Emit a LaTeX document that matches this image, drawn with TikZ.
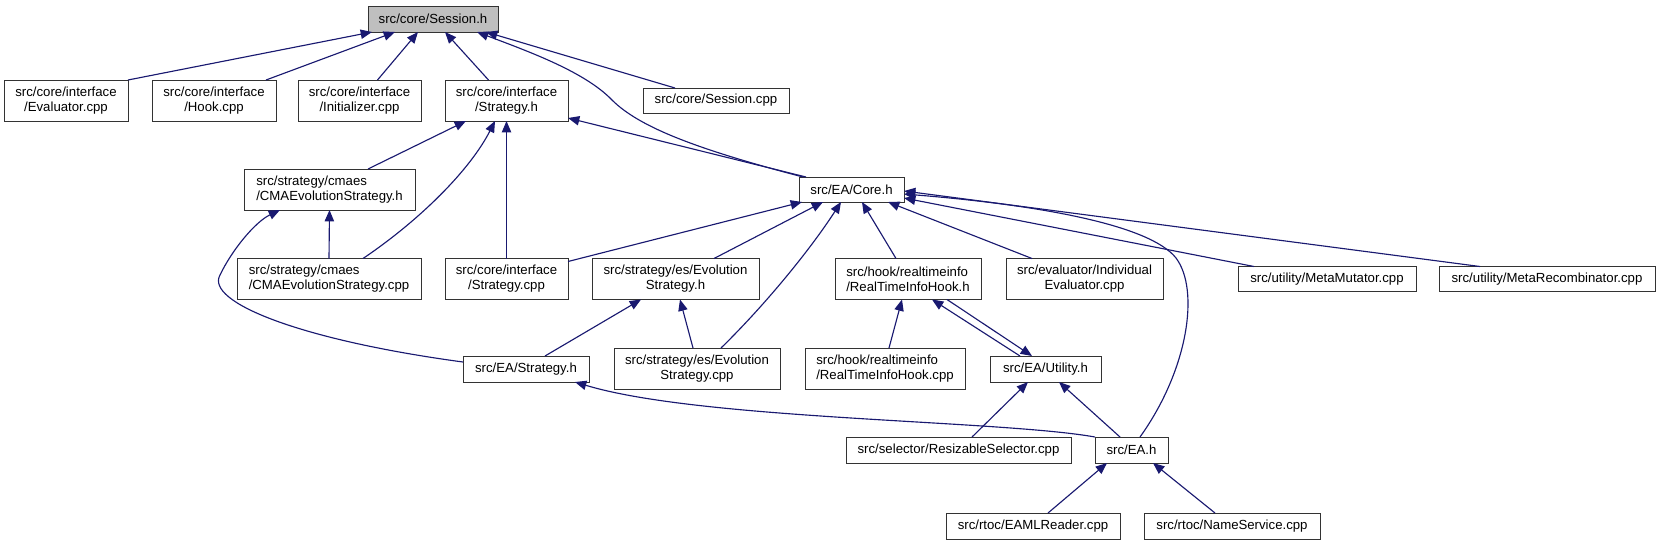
\documentclass[tikz,border=0pt]{standalone}
\usepackage{fontspec}
\setmainfont{Liberation Sans}
\usetikzlibrary{arrows.meta,calc}
\definecolor{edgec}{HTML}{191970}
\definecolor{rootfill}{HTML}{BFBFBF}
\begin{document}
\begin{tikzpicture}[x=0.75pt,y=-0.75pt,
  box/.style={draw=black!80, line width=0.75pt, fill=white, inner sep=0pt, outer sep=0pt,
              font=\fontsize{9.9}{11.3}\selectfont, align=center},
  lbox/.style={box, align=left},
  rootbox/.style={box, fill=rootfill},
  bx/.style 2 args={minimum width=#1*0.75pt, minimum height=#2*0.75pt},
  edge/.style={draw=edgec, line width=0.85pt, -{Triangle[length=8.5pt,width=7pt]}}
]
\useasboundingbox (0,0) rectangle (1659,544);

% row 0
\node[rootbox, bx={130}{26}] (S) at (433,19) {src/core/Session.h};
% row 1
\node[box, bx={124}{41}] (Ev) at (66,100.5) {src/core/interface\\/Evaluator.cpp};
\node[box, bx={124}{41}] (Hk) at (214,100.5) {src/core/interface\\/Hook.cpp};
\node[box, bx={123}{41}] (In) at (359.5,100.5) {src/core/interface\\/Initializer.cpp};
\node[box, bx={123}{41}] (St) at (506.5,100.5) {src/core/interface\\/Strategy.h};
\node[box, bx={146}{25}] (Sc) at (716,100.5) {src/core/Session.cpp};
% row 2
\node[lbox, bx={171}{41}] (Cmh) at (329.5,189.5) {src/strategy/cmaes\\/CMAEvolutionStrategy.h};
\node[box, bx={105}{25}] (Core) at (851.5,189.5) {src/EA/Core.h};
% row 3
\node[lbox, bx={184}{41}] (Cmc) at (329,279) {src/strategy/cmaes\\/CMAEvolutionStrategy.cpp};
\node[box, bx={123}{41}] (Stc) at (506.5,279) {src/core/interface\\/Strategy.cpp};
\node[box, bx={167}{41}] (Esh) at (675.5,279) {src/strategy/es/Evolution\\Strategy.h};
\node[lbox, bx={146}{41}] (Rth) at (908,279) {src/hook/realtimeinfo\\/RealTimeInfoHook.h};
\node[box, bx={157}{41}] (Ie) at (1084.5,279) {src/evaluator/Individual\\Evaluator.cpp};
\node[box, bx={178}{25}] (Mm) at (1327,279) {src/utility/MetaMutator.cpp};
\node[box, bx={216}{25}] (Mr) at (1547,279) {src/utility/MetaRecombinator.cpp};
% row 4
\node[box, bx={126}{26}] (Eas) at (526,369) {src/EA/Strategy.h};
\node[box, bx={166}{41}] (Esc) at (697,368.5) {src/strategy/es/Evolution\\Strategy.cpp};
\node[lbox, bx={160}{41}] (Rtc) at (885,368.5) {src/hook/realtimeinfo\\/RealTimeInfoHook.cpp};
\node[box, bx={111}{26}] (Ut) at (1045.5,369) {src/EA/Utility.h};
% row 5
\node[box, bx={225}{26}] (Rs) at (958.5,450) {src/selector/ResizableSelector.cpp};
\node[box, bx={73}{26}] (EAh) at (1131.5,450) {src/EA.h};
% row 6
\node[box, bx={174}{26}] (Eaml) at (1033,526) {src/rtoc/EAMLReader.cpp};
\node[box, bx={176}{26}] (Ns) at (1232,526) {src/rtoc/NameService.cpp};

% edges into Session.h
\draw[edge] (Ev.north east) -- ($(S.south west)+(4,0)$);
\draw[edge] ($(Hk.north east)+(-10,0)$) -- ($(S.south west)+(27,0)$);
\draw[edge] ($(In.north)+(18,0)$) -- ($(S.south west)+(50,0)$);
\draw[edge] ($(St.north)+(-18,0)$) -- ($(S.south west)+(77,0)$);
\draw[edge] ($(Sc.north west)+(32,0)$) -- ($(S.south east)+(-12,0)$);
\draw[edge] ($(Core.north west)+(4,0)$) .. controls (700,150) and (640,128) .. (612,100)
            .. controls (585,72) and (530,52) .. ($(S.south east)+(-21,0)$);
% edges into core/interface/Strategy.h
\draw[edge] ($(Core.north west)+(7,0)$) -- ($(St.south east)+(0,-3)$);
\draw[edge] ($(Cmh.north)+(38.5,0)$) -- ($(St.south west)+(21,0)$);
\draw[edge] ($(Cmc.north)+(34,0)$) .. controls (420,220) and (470,170) .. ($(St.south)+(-11.5,0)$);
\draw[edge] (Stc.north) -- (St.south);
% edges into CMAEvolutionStrategy.h
\draw[edge] (Cmc.north) -- (Cmh.south);
\draw[edge] ($(Eas.north west)+(0,6)$) .. controls (300,340) and (205,302) .. (220,275)
            .. controls (232,250) and (255,222) .. ($(Cmh.south west)+(36,0)$);
% edges into Core.h
\draw[edge] ($(Stc.north east)+(0,3)$) -- ($(Core.south west)+(3,0)$);
\draw[edge] ($(Esh.north)+(38.5,0)$) -- ($(Core.south west)+(24,0)$);
\draw[edge] ($(Esc.north)+(24,0)$) .. controls (765,305) and (810,250) .. ($(Core.south west)+(42,0)$);
\draw[edge] ($(Rth.north)+(-12,0)$) -- ($(Core.south west)+(63,0)$);
\draw[edge] ($(Ie.north)+(-52.5,0)$) -- ($(Core.south west)+(89,0)$);
\draw[edge] ($(Mm.north west)+(16,0)$) -- ($(Core.east)+(0,8.5)$);
\draw[edge] ($(Mr.north west)+(41,0)$) -- ($(Core.east)+(0,1.5)$);
\draw[edge] ($(EAh.north)+(8.5,0)$) .. controls (1188,370) and (1200,290) .. (1176,258)
            .. controls (1150,225) and (1040,205) .. ($(Core.east)+(0,4.5)$);
% edges into EvolutionStrategy.h
\draw[edge] ($(Eas.north)+(19,0)$) -- ($(Esh.south)+(-34.5,0)$);
\draw[edge] ($(Esc.north)+(-4,0)$) -- ($(Esh.south)+(4.5,0)$);
% RealTimeInfoHook.h <-> Utility.h
\draw[edge] ($(Rtc.north)+(4,0)$) -- ($(Rth.south)+(-6,0)$);
\draw[edge] ($(Ut.north west)+(30,0)$) -- ($(Rth.south)+(24,0)$);
\draw[edge] ($(Rth.south)+(39,0)$) -- ($(Ut.north west)+(42,0)$);
% edges into Utility.h
\draw[edge] ($(Rs.north)+(13.5,0)$) -- ($(Ut.south)+(-17.5,0)$);
\draw[edge] ($(EAh.north)+(-11.5,0)$) -- ($(Ut.south)+(13.5,0)$);
% EA.h -> EA/Strategy.h
\draw[edge] (EAh.north west) .. controls (1000,420) and (700,420) .. ($(Eas.south east)+(-14,0)$);
% edges into EA.h
\draw[edge] ($(Eaml.north)+(15,0)$) -- ($(EAh.south)+(-24.5,0)$);
\draw[edge] ($(Ns.north)+(-17,0)$) -- ($(EAh.south)+(21.5,0)$);
\end{tikzpicture}
\end{document}
